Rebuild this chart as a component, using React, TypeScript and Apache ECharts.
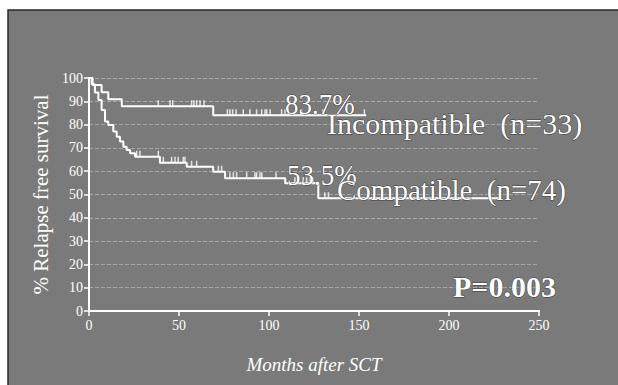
import React, { useEffect, useRef } from "react";
import * as echarts from "echarts";

// Kaplan-Meier steps: [month of drop, survival % after drop]
const incompatibleSteps: number[][] = [
  [0, 100], [2, 97.0], [7, 93.9], [10.7, 90.9], [18.2, 87.9], [69, 84.0], [154, 84.0],
];
const compatibleSteps: number[][] = [
  [0, 100], [1.5, 97.3], [3.3, 93.8], [5.2, 90.6], [7, 86.3], [8.9, 81.3], [10.7, 79.8],
  [13.5, 77.0], [15.4, 74.8], [17.2, 72.7], [19.1, 70.5], [20.9, 69.1], [22.8, 67.7],
  [25.6, 66.2], [39.4, 63.6], [54.3, 61.9], [69, 59.8], [75.6, 57.0], [109, 54.8],
  [127.4, 48.4], [228, 48.4],
];
// censored observations (months)
const incompatibleCensored: number[] = [
  38.5, 45, 46.5, 57, 58.3, 59.8, 61.7, 63.9, 76.9, 78.3, 79.8, 81.7, 85.7, 89.4, 93.1,
  95.9, 97.8, 98.7, 100.6, 107, 108.9, 110.7, 118, 130, 153,
];
const compatibleCensored: number[] = [
  26.5, 28.3, 38.5, 41.3, 45.9, 47.8, 49.6, 52.4, 53.3, 57, 59.8, 71.9, 73.7, 78.3, 80.2,
  82, 87.6, 92.2, 93.1, 95, 96, 103.9, 114.4, 116.3, 119, 120.9, 122.8, 124.3, 131, 133, 228,
];
const xTicks = [0, 50, 100, 150, 200, 250];
const yTicks = [0, 10, 20, 30, 40, 50, 60, 70, 80, 90, 100];

const labelIncompatible = "Incompatible  (n=33)";
const labelCompatible = "Compatible  (n=74)";
const pctIncompatible = "83.7%";
const pctCompatible = "53.5%";
const pValue = "P=0.003";

function valueAt(steps: number[][], t: number): number {
  let v = steps[0][1];
  for (const [m, s] of steps) {
    if (m <= t) v = s;
  }
  return v;
}

const SERIF = "'Liberation Serif', 'DejaVu Serif', serif";

export default function App() {
  const ref = useRef<HTMLDivElement>(null);
  useEffect(() => {
    if (!ref.current) return;
    const chart = echarts.init(ref.current, undefined, { renderer: "svg" });
    const txt = (text: string, x: number, y: number, size: number, extra: any = {}) => ({
      type: "text",
      x,
      y,
      z: 100,
      scaleX: extra.scaleX ?? 1,
      style: {
        text,
        fill: "#ffffff",
        font: `${extra.weight ?? "normal"} ${size}px ${SERIF}`,
        verticalAlign: "middle",
        align: "left",
        stroke: "rgba(20,20,20,0.7)",
        lineWidth: 1,
      },
    });
    chart.setOption({
      animation: false,
      backgroundColor: "#ffffff",
      graphic: [
        {
          type: "rect",
          z: -10,
          silent: true,
          shape: { x: 8, y: 10, width: 612, height: 377 },
          style: { fill: "#7a7a7a", stroke: "#2a2a2a", lineWidth: 1.5 },
        },
        txt(pctIncompatible, 285, 104, 30, { scaleX: 0.9 }),
        txt(labelIncompatible, 327, 123, 30),
        txt(pctCompatible, 287, 175, 30, { scaleX: 0.9 }),
        txt(labelCompatible, 337, 190, 29),
        txt(pValue, 453, 286, 30, { weight: "bold" }),
      ],
      grid: { left: 89, right: 79, top: 78, bottom: 74 },
      xAxis: {
        type: "value",
        min: 0,
        max: 250,
        interval: 50,
        name: "Months after SCT",
        nameLocation: "middle",
        nameGap: 44,
        nameTextStyle: { color: "#fff", fontFamily: SERIF, fontSize: 19, fontStyle: "italic" },
        axisLine: { show: true, lineStyle: { color: "#fff", width: 2 } },
        axisTick: { show: true, length: 5, lineStyle: { color: "#fff", width: 1.5 } },
        axisLabel: {
          color: "#fff",
          fontFamily: SERIF,
          fontSize: 14,
          margin: 7,
          formatter: (v: number) => (xTicks.includes(v) ? String(v) : ""),
        },
        splitLine: { show: false },
      },
      yAxis: {
        type: "value",
        min: 0,
        max: 100,
        interval: 10,
        name: "% Relapse free survival",
        nameLocation: "middle",
        nameGap: 38,
        nameTextStyle: { color: "#fff", fontFamily: SERIF, fontSize: 21 },
        axisLine: { show: true, lineStyle: { color: "#fff", width: 2 } },
        axisTick: { show: true, length: 5, lineStyle: { color: "#fff", width: 1.5 } },
        axisLabel: {
          color: "#fff",
          fontFamily: SERIF,
          fontSize: 14,
          margin: 6,
          formatter: (v: number) => (yTicks.includes(v) ? String(v) : ""),
        },
        splitLine: {
          show: true,
          lineStyle: { color: "rgba(255,255,255,0.35)", type: "dashed", width: 1 },
        },
      },
      series: [
        {
          type: "line",
          name: "Incompatible",
          step: "end",
          showSymbol: false,
          data: incompatibleSteps,
          lineStyle: { color: "#fff", width: 2 },
          z: 5,
        },
        {
          type: "line",
          name: "Compatible",
          step: "end",
          showSymbol: false,
          data: compatibleSteps,
          lineStyle: { color: "#fff", width: 2 },
          z: 5,
        },
        {
          type: "scatter",
          symbol: "rect",
          symbolSize: [1.5, 6],
          symbolOffset: [0, -3],
          itemStyle: { color: "#fff" },
          data: incompatibleCensored.map((t) => [t, valueAt(incompatibleSteps, t)]),
          z: 6,
        },
        {
          type: "scatter",
          symbol: "rect",
          symbolSize: [1.5, 6],
          symbolOffset: [0, -3],
          itemStyle: { color: "#fff" },
          data: compatibleCensored.map((t) => [t, valueAt(compatibleSteps, t)]),
          z: 6,
        },
      ],
    });
    return () => chart.dispose();
  }, []);
  return (
    <div
      ref={ref}
      style={{ width: 618, height: 385, position: "absolute", left: 0, top: 0 }}
    />
  );
}
